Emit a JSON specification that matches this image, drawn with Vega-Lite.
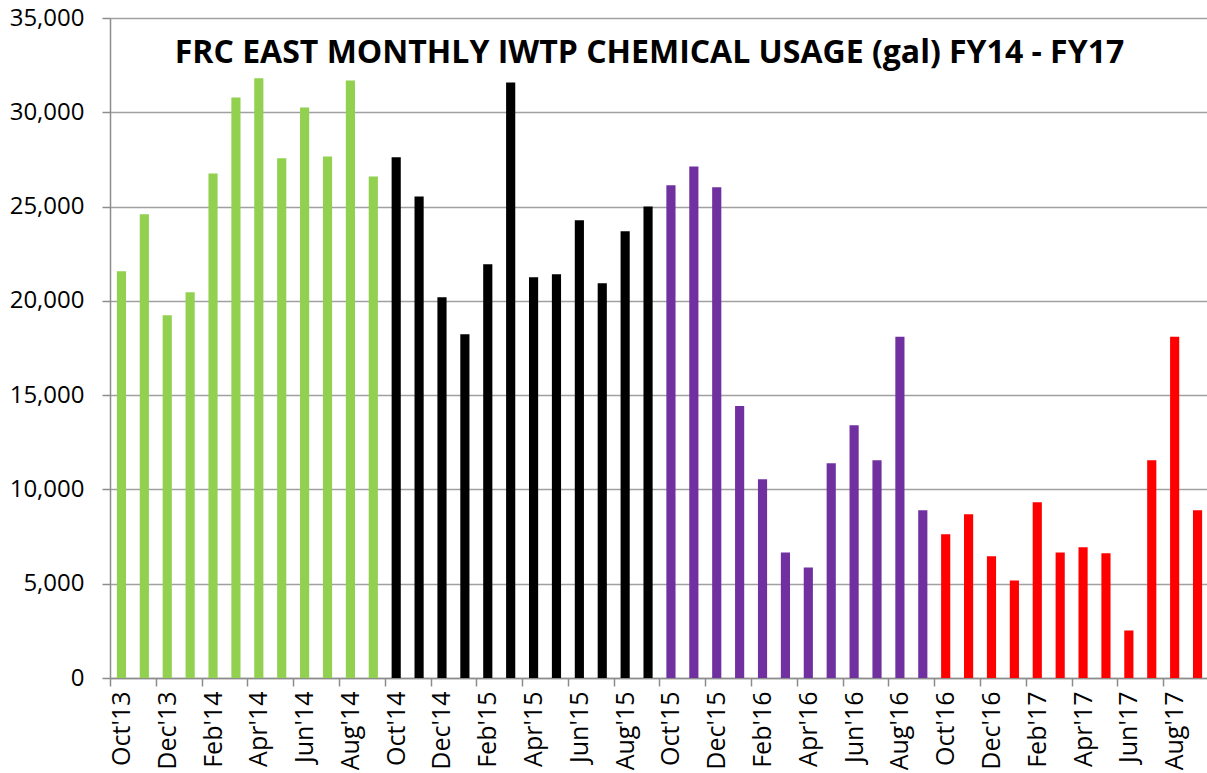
{
  "$schema": "https://vega.github.io/schema/vega-lite/v6.json",
  "width": 1099,
  "height": 660,
  "autosize": {"type": "none"},
  "padding": {"left": 110, "top": 18, "right": 0, "bottom": 95},
  "background": "white",
  "title": {
    "text": "FRC EAST MONTHLY IWTP CHEMICAL USAGE (gal) FY14 - FY17",
    "font": "Open Sans",
    "fontSize": 32,
    "fontWeight": "bold",
    "color": "#000000",
    "anchor": "middle",
    "orient": "top",
    "baseline": "top",
    "offset": -64,
    "dx": -10
  },
  "data": {
    "values": [
      {"month": "Oct'13", "fy": "FY14", "gal": 21570},
      {"month": "Nov'13", "fy": "FY14", "gal": 24590},
      {"month": "Dec'13", "fy": "FY14", "gal": 19240},
      {"month": "Jan'14", "fy": "FY14", "gal": 20460},
      {"month": "Feb'14", "fy": "FY14", "gal": 26760},
      {"month": "Mar'14", "fy": "FY14", "gal": 30790},
      {"month": "Apr'14", "fy": "FY14", "gal": 31800},
      {"month": "May'14", "fy": "FY14", "gal": 27560},
      {"month": "Jun'14", "fy": "FY14", "gal": 30260},
      {"month": "Jul'14", "fy": "FY14", "gal": 27660},
      {"month": "Aug'14", "fy": "FY14", "gal": 31690},
      {"month": "Sep'14", "fy": "FY14", "gal": 26600},
      {"month": "Oct'14", "fy": "FY15", "gal": 27610},
      {"month": "Nov'14", "fy": "FY15", "gal": 25540},
      {"month": "Dec'14", "fy": "FY15", "gal": 20190},
      {"month": "Jan'15", "fy": "FY15", "gal": 18230},
      {"month": "Feb'15", "fy": "FY15", "gal": 21940},
      {"month": "Mar'15", "fy": "FY15", "gal": 31580},
      {"month": "Apr'15", "fy": "FY15", "gal": 21250},
      {"month": "May'15", "fy": "FY15", "gal": 21410},
      {"month": "Jun'15", "fy": "FY15", "gal": 24270},
      {"month": "Jul'15", "fy": "FY15", "gal": 20930},
      {"month": "Aug'15", "fy": "FY15", "gal": 23690},
      {"month": "Sep'15", "fy": "FY15", "gal": 25010},
      {"month": "Oct'15", "fy": "FY16", "gal": 26130},
      {"month": "Nov'15", "fy": "FY16", "gal": 27130},
      {"month": "Dec'15", "fy": "FY16", "gal": 26020},
      {"month": "Jan'16", "fy": "FY16", "gal": 14420},
      {"month": "Feb'16", "fy": "FY16", "gal": 10540},
      {"month": "Mar'16", "fy": "FY16", "gal": 6660},
      {"month": "Apr'16", "fy": "FY16", "gal": 5860},
      {"month": "May'16", "fy": "FY16", "gal": 11390},
      {"month": "Jun'16", "fy": "FY16", "gal": 13410},
      {"month": "Jul'16", "fy": "FY16", "gal": 11550},
      {"month": "Aug'16", "fy": "FY16", "gal": 18090},
      {"month": "Sep'16", "fy": "FY16", "gal": 8890},
      {"month": "Oct'16", "fy": "FY17", "gal": 7620},
      {"month": "Nov'16", "fy": "FY17", "gal": 8680},
      {"month": "Dec'16", "fy": "FY17", "gal": 6450},
      {"month": "Jan'17", "fy": "FY17", "gal": 5170},
      {"month": "Feb'17", "fy": "FY17", "gal": 9320},
      {"month": "Mar'17", "fy": "FY17", "gal": 6660},
      {"month": "Apr'17", "fy": "FY17", "gal": 6930},
      {"month": "May'17", "fy": "FY17", "gal": 6610},
      {"month": "Jun'17", "fy": "FY17", "gal": 2520},
      {"month": "Jul'17", "fy": "FY17", "gal": 11550},
      {"month": "Aug'17", "fy": "FY17", "gal": 18090},
      {"month": "Sep'17", "fy": "FY17", "gal": 8890}
    ]
  },
  "mark": {"type": "bar"},
  "encoding": {
    "x": {
      "field": "month",
      "type": "ordinal",
      "sort": null,
      "title": null,
      "scale": {"paddingInner": 0.6, "paddingOuter": 0.3},
      "axis": {
        "values": ["Oct'13","Dec'13","Feb'14","Apr'14","Jun'14","Aug'14","Oct'14","Dec'14","Feb'15","Apr'15","Jun'15","Aug'15","Oct'15","Dec'15","Feb'16","Apr'16","Jun'16","Aug'16","Oct'16","Dec'16","Feb'17","Apr'17","Jun'17","Aug'17"],
        "labelAngle": -90,
        "labelFont": "Open Sans",
        "labelFontSize": 25,
        "labelColor": "#000000",
        "labelPadding": 5,
        "tickOffset": -11.45,
        "labelOffset": 11.45,
        "tickSize": 8,
        "tickColor": "#8C8C8C",
        "tickWidth": 1.5,
        "domainColor": "#8C8C8C",
        "domainWidth": 1.5,
        "grid": false
      }
    },
    "y": {
      "field": "gal",
      "type": "quantitative",
      "title": null,
      "scale": {"domain": [0, 35000], "nice": false},
      "axis": {
        "values": [0, 5000, 10000, 15000, 20000, 25000, 30000, 35000],
        "format": ",.0f",
        "labelFont": "Open Sans",
        "labelFontSize": 24,
        "labelColor": "#000000",
        "labelPadding": 18,
        "tickSize": 8,
        "tickColor": "#8C8C8C",
        "tickWidth": 1.5,
        "domainColor": "#8C8C8C",
        "domainWidth": 1.5,
        "grid": true,
        "gridColor": "#A0A0A0",
        "gridWidth": 1.5
      }
    },
    "color": {
      "field": "fy",
      "type": "nominal",
      "legend": null,
      "scale": {"domain": ["FY14", "FY15", "FY16", "FY17"], "range": ["#92D050", "#000000", "#7030A0", "#FF0000"]}
    }
  },
  "config": {"view": {"stroke": null}}
}
